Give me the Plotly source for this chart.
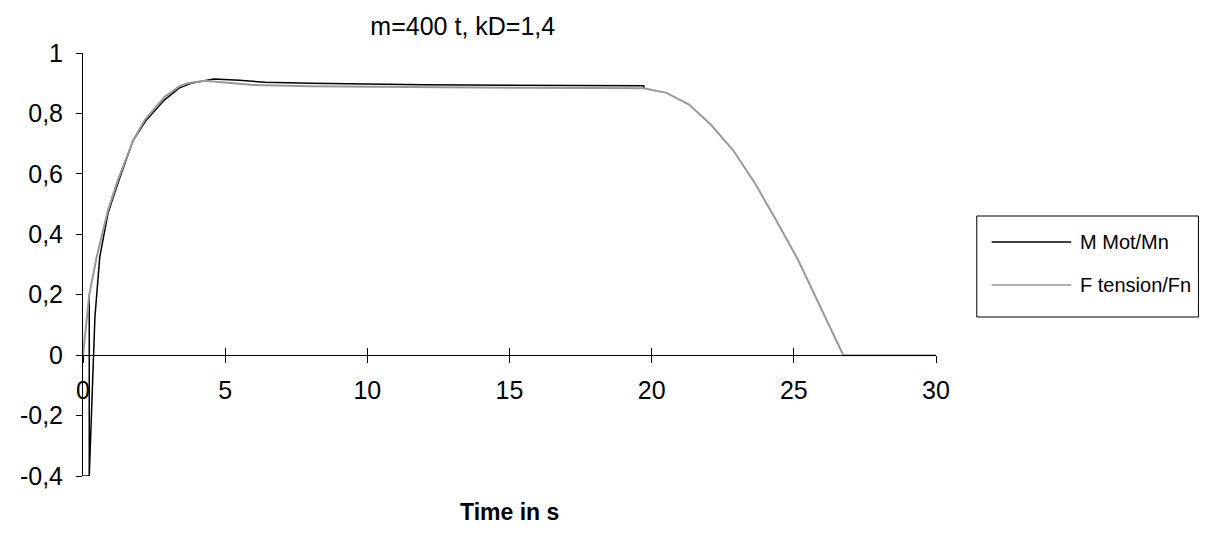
import plotly.graph_objects as go

# M Mot/Mn (black)
motor_t = [0, 0.22, 0.22, 0.22, 0.42, 0.59, 0.88, 1.23, 1.76, 2.2, 2.87, 3.4, 3.8, 4.6,
           5.5, 6.4, 8, 10, 12, 15, 18, 19.72, 19.73]
motor_y = [-0.4, -0.4, 0.2, -0.4, 0.127, 0.325, 0.47, 0.57, 0.71, 0.775, 0.845, 0.885, 0.9, 0.914,
           0.91, 0.903, 0.9, 0.897, 0.895, 0.893, 0.892, 0.892, 0.882]

# F tension/Fn (grey)
tension_t = [0, 0.22, 0.48, 0.88, 1.23, 1.76, 2.17, 2.87, 3.4, 3.68, 4.27, 5.0, 6.0, 8.0, 10, 12,
             15, 18, 19.72, 20.52, 21.3, 22.06, 22.86, 23.61, 24.37, 25.15, 25.92, 26.74, 30]
tension_y = [0, 0.2, 0.325, 0.48, 0.58, 0.71, 0.778, 0.855, 0.89, 0.9, 0.908, 0.902, 0.894, 0.89,
             0.888, 0.886, 0.885, 0.884, 0.883, 0.868, 0.830, 0.765, 0.679, 0.572, 0.448, 0.315,
             0.162, 0.0, 0.0]

series_names = ["M Mot/Mn", "F tension/Fn"]
series_colors = ["#000000", "#999999"]

x_ticks = [0, 5, 10, 15, 20, 25, 30]
y_ticks = [-0.4, -0.2, 0, 0.2, 0.4, 0.6, 0.8, 1]
y_ticktext = ["-0,4", "-0,2", "0", "0,2", "0,4", "0,6", "0,8", "1"]

FONT = "Liberation Sans, Arial, sans-serif"

fig = go.Figure()
fig.add_trace(go.Scatter(x=motor_t, y=motor_y, mode="lines", name=series_names[0],
                         line=dict(color=series_colors[0], width=1.5)))
fig.add_trace(go.Scatter(x=tension_t, y=tension_y, mode="lines", name=series_names[1],
                         line=dict(color=series_colors[1], width=2)))

# axe x posé sur y=0 : position relative dans la zone de tracé
x_pos = 0.4 / 1.4

# la page ajoute une marge de 8 px autour du graphique
fig.update_layout(
    width=1211, height=549,
    margin=dict(l=70, r=283, t=45, b=81),
    paper_bgcolor="white", plot_bgcolor="white",
    showlegend=False,
    font=dict(family=FONT, color="black"),
    title=dict(text="m=400 t, kD=1,4", xref="paper", x=(460 - 78) / 858, xanchor="center",
               yref="container", y=1 - 18 / 549, yanchor="middle",
               font=dict(size=25, family=FONT)),
    xaxis=dict(range=[0, 30], anchor="free", position=x_pos, showgrid=False, zeroline=False,
               showline=True, linecolor="black", linewidth=1,
               tickvals=x_ticks, ticks="outside", ticklen=7, tickcolor="black",
               tickfont=dict(size=25), ticklabelstandoff=6),
    xaxis2=dict(range=[0, 30], overlaying="x", anchor="free", position=x_pos, showgrid=False,
                zeroline=False, showline=False, tickvals=x_ticks, ticks="inside", ticklen=7,
                tickcolor="black", showticklabels=False),
    yaxis=dict(range=[-0.4, 1], anchor="x", showgrid=False, zeroline=False,
               showline=True, linecolor="black", linewidth=1,
               tickvals=y_ticks, ticktext=y_ticktext, ticks="outside", ticklen=6,
               tickcolor="black", tickfont=dict(size=25), ticklabelstandoff=8),
)

# petite trace invisible pour afficher l'axe x2 (ticks croisés)
fig.add_trace(go.Scatter(x=[0], y=[0], xaxis="x2", mode="markers", opacity=0,
                         hoverinfo="skip", showlegend=False))

fig.add_annotation(text="<b>Time in s</b>", xref="paper", yref="paper", x=0.5, y=0,
                   xanchor="center", yanchor="middle", yshift=-36, showarrow=False,
                   font=dict(size=23, family=FONT))

# légende dessinée à la main (cadre, traits, libellés)
def px_x(p):
    return (p - 78) / 858

def px_y(p):
    return (476 - p) / 423

fig.add_shape(type="rect", xref="paper", yref="paper", x0=px_x(977), x1=px_x(1200),
              y0=px_y(317), y1=px_y(216), line=dict(color="black", width=1))
for i, ypix in enumerate([242, 285]):
    fig.add_shape(type="line", xref="paper", yref="paper", x0=px_x(992), x1=px_x(1072),
                  y0=px_y(ypix), y1=px_y(ypix), line=dict(color=series_colors[i], width=1.5))
    fig.add_annotation(text=series_names[i], xref="paper", yref="paper", x=px_x(1079),
                       y=px_y(ypix), xanchor="left", yanchor="middle", showarrow=False,
                       font=dict(size=20, family=FONT))

fig.write_html("out.html")
